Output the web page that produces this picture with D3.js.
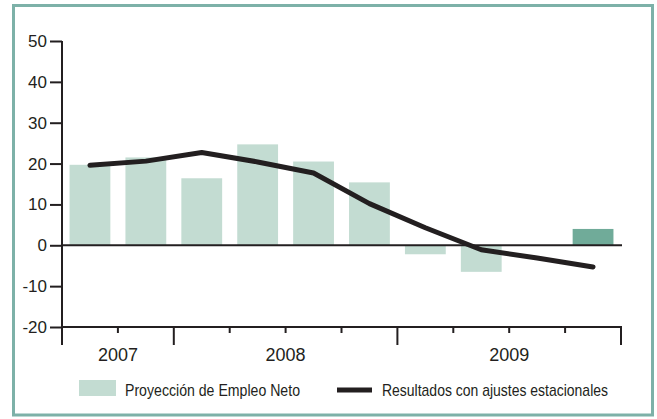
<!DOCTYPE html>
<html lang="es">
<head>
<meta charset="UTF-8">
<title>Proyección de Empleo Neto</title>
<script src="https://cdn.jsdelivr.net/npm/d3@7/dist/d3.min.js"></script>
<style>
  body { margin: 0; background: #fff; }
  text { font-family: "Liberation Sans", Arial, sans-serif; fill: #231f20; }
</style>
</head>
<body>
<div id="chart"></div>
<script>
  var quarters = ['2007 T3','2007 T4','2008 T1','2008 T2','2008 T3','2008 T4','2009 T1','2009 T2','2009 T3','2009 T4'];
  var years = ['2007','2008','2009'];
  var proyeccion = [19.7, 21.5, 16.4, 24.7, 20.5, 15.4, -2.2, -6.5, null, 4.0];
  var ajustados = [19.6, 20.6, 22.7, 20.4, 17.7, 10.2, 4.3, -1.1, -3.1, -5.3];
  var yTicks = [50, 40, 30, 20, 10, 0, -10, -20];

  var W = 657, H = 419;
  var svg = d3.select('#chart').append('svg').attr('width', W).attr('height', H);

  // marco
  svg.append('rect').attr('x', 13.5).attr('y', 5.5).attr('width', 639).attr('height', 409.5)
    .attr('fill', 'none').attr('stroke', '#7db1a8').attr('stroke-width', 3);

  var x = d3.scaleBand().domain(quarters).range([62, 621]).paddingInner(0.27).paddingOuter(0.135);
  var y = d3.scaleLinear().domain([-20, 50]).range([327, 41]);

  // barras
  svg.selectAll('rect.bar').data(quarters.map(function(q, i){ return {q: q, v: proyeccion[i]}; }).filter(function(d){ return d.v != null; }))
    .enter().append('rect')
    .attr('class', 'bar')
    .attr('x', function(d){ return x(d.q); })
    .attr('width', x.bandwidth())
    .attr('y', function(d){ return y(Math.max(0, d.v)); })
    .attr('height', function(d){ return Math.abs(y(d.v) - y(0)); })
    .attr('fill', function(d){ return d.q === '2009 T4' ? '#70ab99' : '#c3dcd2'; });

  // linea cero
  svg.append('line').attr('x1', 62).attr('x2', 622).attr('y1', y(0)).attr('y2', y(0))
    .attr('stroke', '#231f20').attr('stroke-width', 2);

  // eje y
  var yAxis = d3.axisLeft(y).tickValues(yTicks).tickSize(12).tickPadding(3).tickFormat(function(d){ return String(d); });
  var gy = svg.append('g').attr('transform', 'translate(62,0)').call(yAxis);
  gy.select('.domain').attr('stroke', '#231f20').attr('stroke-width', 2).attr('d', 'M0,' + y(50) + 'V' + (y(-20) + 18));
  gy.selectAll('.tick line').attr('stroke', '#231f20').attr('stroke-width', 2);
  gy.selectAll('.tick text').style('font-size', '17px').attr('fill', '#333');

  // eje x
  var step = x.step();
  var edges = d3.range(quarters.length + 1).map(function(i){ return 62 + i * step; });
  var major = [0, 2, 6, 10];
  var gx = svg.append('g');
  gx.append('line').attr('x1', 62).attr('x2', 622).attr('y1', 327).attr('y2', 327)
    .attr('stroke', '#231f20').attr('stroke-width', 2);
  gx.selectAll('line.t').data(edges).enter().append('line')
    .attr('class', 't')
    .attr('x1', function(d){ return d; }).attr('x2', function(d){ return d; })
    .attr('y1', 327).attr('y2', function(d, i){ return major.indexOf(i) >= 0 ? 345 : 333; })
    .attr('stroke', '#231f20').attr('stroke-width', 2);
  gx.selectAll('text.year').data(years).enter().append('text')
    .attr('class', 'year')
    .attr('x', function(d, i){ return (edges[major[i]] + edges[major[i + 1]]) / 2; })
    .attr('y', 361)
    .attr('text-anchor', 'middle')
    .attr('textLength', 40).attr('lengthAdjust', 'spacingAndGlyphs')
    .attr('fill', '#333')
    .style('font-size', '18px')
    .text(function(d){ return d; });

  // linea
  var line = d3.line()
    .x(function(d, i){ return x(quarters[i]) + x.bandwidth() / 2; })
    .y(function(d){ return y(d); });
  svg.append('path').datum(ajustados)
    .attr('d', line)
    .attr('fill', 'none').attr('stroke', '#231f20').attr('stroke-width', 5)
    .attr('stroke-linecap', 'round').attr('stroke-linejoin', 'round');

  // leyenda
  svg.append('rect').attr('x', 79).attr('y', 380).attr('width', 37).attr('height', 16).attr('fill', '#c3dcd2');
  svg.append('text').attr('x', 125).attr('y', 396)
    .attr('textLength', 175).attr('lengthAdjust', 'spacingAndGlyphs')
    .attr('fill', '#333')
    .style('font-size', '17px').text('Proyección de Empleo Neto');
  svg.append('line').attr('x1', 337).attr('x2', 372).attr('y1', 390).attr('y2', 390)
    .attr('stroke', '#231f20').attr('stroke-width', 5);
  svg.append('text').attr('x', 382).attr('y', 396)
    .attr('textLength', 226).attr('lengthAdjust', 'spacingAndGlyphs')
    .attr('fill', '#333')
    .style('font-size', '17px').text('Resultados con ajustes estacionales');
</script>
</body>
</html>
